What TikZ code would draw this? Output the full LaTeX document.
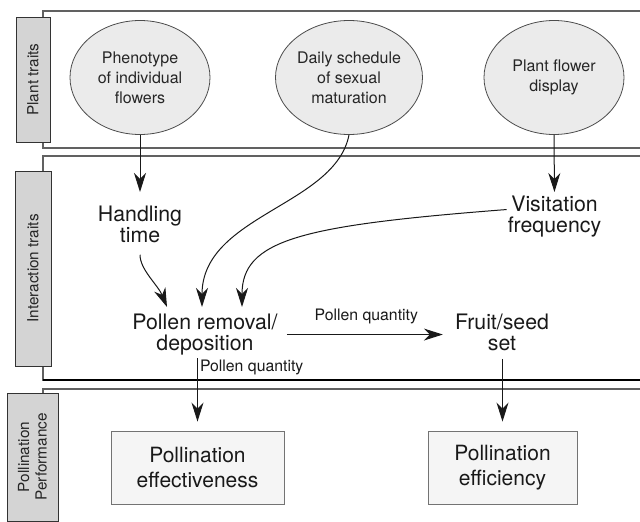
\documentclass[tikz,border=0pt]{standalone}
\usepackage{fontspec}
\setmainfont{TeX Gyre Heros}
\usetikzlibrary{shapes.geometric,arrows.meta,calc}
\begin{document}
\begin{tikzpicture}[x=1pt,y=-1pt,
 panel/.style={draw=black!62, line width=1.1pt},
 tag/.style={draw=black!80, fill=black!17, line width=0.8pt, rotate=90, inner sep=0pt, align=center, font=\fontsize{15.3}{17.5}\selectfont, text=black!85},
 oval/.style={ellipse, draw=black!70, fill=black!8, line width=0.8pt, minimum width=140pt, minimum height=114pt, inner sep=0pt, align=center, font=\fontsize{16}{20}\selectfont, text=black!85},
 big/.style={align=center, inner sep=0pt, font=\fontsize{21.3}{20.5}\selectfont, text=black!90},
 outbox/.style={draw=black!55, fill=black!4, line width=0.9pt, align=center, inner sep=0pt, font=\fontsize{21}{25}\selectfont, text=black!90},
 lbl/.style={font=\fontsize{15.8}{17}\selectfont, inner sep=0pt, text=black!90},
 arr/.style={-{Stealth[length=19pt,width=12pt,inset=6pt]}, line width=1pt, draw=black!90}
]
\useasboundingbox (0,0) rectangle (640,522);
\clip (0,0) rectangle (640,522);
% panels
\path[panel] (43,11) rectangle (660,148);
\path[panel] (43,156) rectangle (660,380);
\draw[black, line width=1.1pt] (43,380) -- (660,380);
\path[panel] (43,389) rectangle (660,560);
% side tags
\node (t1) [tag, minimum width=125pt, minimum height=34pt] at (33,79.5) {Plant traits};
\node (t2) [tag, minimum width=195pt, minimum height=36pt] at (33,268.5) {Interaction traits};
\node (t3) [tag, minimum width=128pt, minimum height=51pt] at (32.5,457) {Pollination\\Performance};
% plant traits
\node (e1) [oval] at (140,77.5) {Phenotype\\of individual\\flowers};
\node (e2) [oval] at (349,77.5) {Daily schedule\\of sexual\\maturation};
\node (e3) [oval] at (554,77.5) {Plant flower\\display};
% interaction traits
\node (ht) [big, anchor=north] at (140,206) {Handling\\time};
\node (vf) [big, anchor=north] at (554.5,196) {Visitation\\frequency};
\node (pr) [big, anchor=north] at (205,314) {Pollen removal/\\deposition};
\node (fs) [big, anchor=north] at (502,314) {Fruit/seed\\set};
% performance
\node (b1) [outbox, minimum width=173pt, minimum height=73pt] at (197.5,467.5) {Pollination\\effectiveness};
\node (b2) [outbox, minimum width=149pt, minimum height=73pt] at (502.5,467.5) {Pollination\\efficiency};
% connectors
\draw[arr, shorten >=14pt] (e1.south) -- (ht.north);
\draw[arr, shorten >=4pt] (e3.south) -- (vf.north);
\draw[arr, shorten <=12pt] (ht.south) .. controls +(0,27) and +(-9,-22) .. ($(pr.north)+(-38,-7)$);
\draw[arr] (e2.south) .. controls +(-14,71) and +(0,-92) .. ($(pr.north)+(-3,-7)$);
\draw[arr] ($(vf.west)+(-1,-7)$) .. controls +(-207,16) and +(0,-67) .. ($(pr.north)+(37,-7)$);
\draw[arr, shorten <=9pt, shorten >=12pt] (pr.east) -- (pr.east -| fs.west)
  node[lbl, midway, above=10pt] {Pollen quantity};
\draw[arr, shorten <=3pt, shorten >=9pt] (b1.north |- pr.south) -- (b1.north)
  node[lbl, pos=0.17, right=2pt] {Pollen quantity};
\draw[arr, shorten <=8pt, shorten >=9pt] (b2.north |- fs.south) -- (b2.north);
\end{tikzpicture}
\end{document}
